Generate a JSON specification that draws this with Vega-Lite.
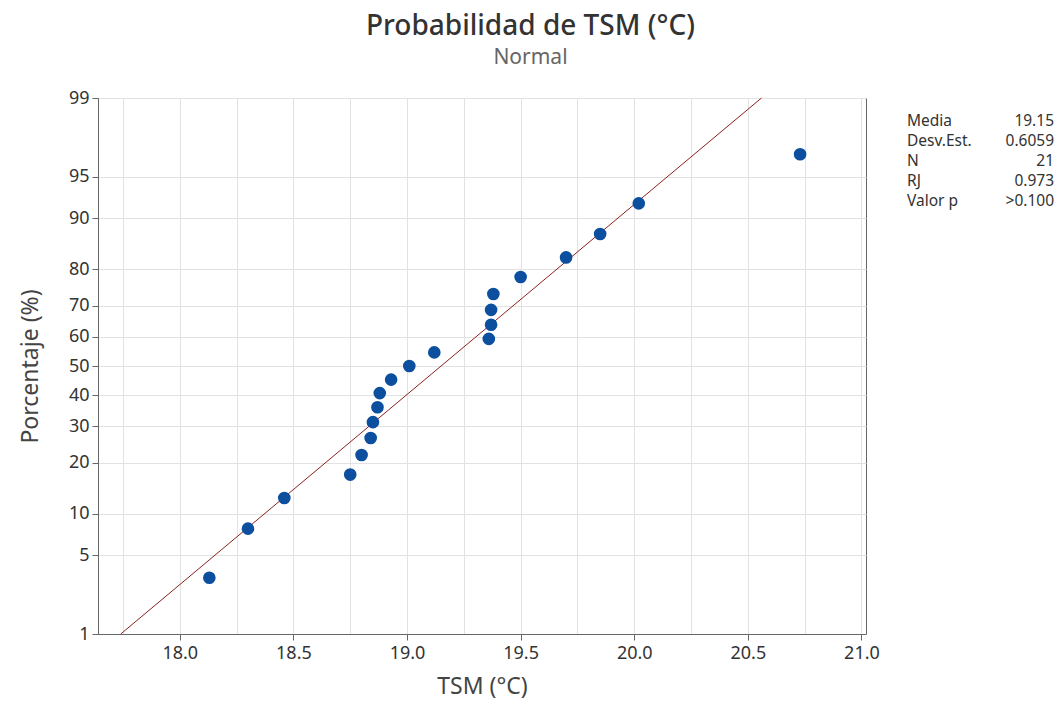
{
  "$schema": "https://vega.github.io/schema/vega-lite/v6.json",
  "background": "white",
  "padding": {"left": 18, "top": 12, "right": 3, "bottom": 3},
  "title": {
    "text": "Probabilidad de TSM (°C)",
    "subtitle": "Normal",
    "anchor": "middle",
    "dx": -6,
    "fontSize": 28,
    "fontWeight": 500,
    "font": "Noto Sans",
    "color": "#333333",
    "subtitleFont": "Noto Sans",
    "subtitleFontSize": 21,
    "subtitleColor": "#666666",
    "subtitlePadding": 6,
    "offset": 21
  },
  "spacing": 27,
  "hconcat": [
    {
      "width": 768,
      "height": 536,
      "view": {"stroke": "#666666", "strokeWidth": 1},
      "encoding": {
        "x": {
          "field": "TSM",
          "type": "quantitative",
          "scale": {"domain": [17.64, 21.02], "nice": false, "zero": false},
          "axis": {
            "title": "TSM (°C)",
            "values": [17.75, 18, 18.25, 18.5, 18.75, 19, 19.25, 19.5, 19.75, 20, 20.25, 20.5, 20.75, 21],
            "labelExpr": "abs(datum.value*2 - round(datum.value*2)) < 0.01 ? format(datum.value, '.1f') : ''",
            "labelOverlap": false,
            "labelPadding": 4,
            "tickOpacity": {"condition": {"test": "abs(datum.value*2 - round(datum.value*2)) < 0.01", "value": 1}, "value": 0},
            "titlePadding": 13
          }
        },
        "y": {
          "field": "z",
          "type": "quantitative",
          "scale": {"domain": [-2.3263, 2.3263], "nice": false, "zero": false},
          "axis": {
            "title": "Porcentaje (%)",
            "values": [-2.3263, -1.6449, -1.2816, -0.8416, -0.5244, -0.2533, 0, 0.2533, 0.5244, 0.8416, 1.2816, 1.6449, 2.3263],
            "labelExpr": "format(round(cumulativeNormal(datum.value)*100), 'd')",
            "labelOverlap": false,
            "labelPadding": 3,
            "titlePadding": 26
          }
        }
      },
      "layer": [
        {
          "data": {"values": [{"TSM": 17.74, "pct": 1}, {"TSM": 20.56, "pct": 99}]},
          "transform": [{"calculate": "quantileNormal(datum.pct/100)", "as": "z"}],
          "mark": {"type": "line", "color": "#8b2020", "strokeWidth": 1}
        },
        {
          "data": {
            "values": [
              {"TSM": 18.13, "pct": 3.3},
              {"TSM": 18.30, "pct": 7.9},
              {"TSM": 18.46, "pct": 12.6},
              {"TSM": 18.75, "pct": 17.3},
              {"TSM": 18.80, "pct": 22.0},
              {"TSM": 18.84, "pct": 26.6},
              {"TSM": 18.85, "pct": 31.3},
              {"TSM": 18.87, "pct": 36.0},
              {"TSM": 18.88, "pct": 40.7},
              {"TSM": 18.93, "pct": 45.3},
              {"TSM": 19.01, "pct": 50.0},
              {"TSM": 19.12, "pct": 54.7},
              {"TSM": 19.36, "pct": 59.3},
              {"TSM": 19.37, "pct": 64.0},
              {"TSM": 19.37, "pct": 68.7},
              {"TSM": 19.38, "pct": 73.4},
              {"TSM": 19.50, "pct": 78.0},
              {"TSM": 19.70, "pct": 82.7},
              {"TSM": 19.85, "pct": 87.4},
              {"TSM": 20.02, "pct": 92.1},
              {"TSM": 20.73, "pct": 96.7}
            ]
          },
          "transform": [{"calculate": "quantileNormal(datum.pct/100)", "as": "z"}],
          "mark": {"type": "circle", "size": 160, "color": "#0b4f9e", "opacity": 1}
        }
      ]
    },
    {
      "width": 147,
      "height": 120,
      "view": {"stroke": null},
      "data": {
        "values": [
          {"stat": "Media", "val": "19.15"},
          {"stat": "Desv.Est.", "val": "0.6059"},
          {"stat": "N", "val": "21"},
          {"stat": "RJ", "val": "0.973"},
          {"stat": "Valor p", "val": ">0.100"}
        ]
      },
      "encoding": {
        "y": {"field": "stat", "type": "nominal", "sort": null, "scale": {"type": "point", "padding": 1}, "axis": null}
      },
      "layer": [
        {
          "mark": {"type": "text", "align": "left", "baseline": "middle", "dy": 3, "fontSize": 15.5, "font": "Noto Sans", "color": "#333333"},
          "encoding": {"text": {"field": "stat"}, "x": {"value": 0}}
        },
        {
          "mark": {"type": "text", "align": "right", "baseline": "middle", "dy": 3, "fontSize": 15.5, "font": "Noto Sans", "color": "#333333"},
          "encoding": {"text": {"field": "val"}, "x": {"value": 147}}
        }
      ]
    }
  ],
  "config": {
    "font": "Noto Sans",
    "axis": {
      "domainColor": "#666666",
      "tickColor": "#666666",
      "tickSize": 6,
      "gridColor": "#e2e2e2",
      "gridWidth": 1,
      "labelColor": "#333333",
      "labelFontSize": 18,
      "labelFont": "Noto Sans",
      "titleFont": "Noto Sans",
      "titleFontSize": 23,
      "titleFontWeight": "normal",
      "titleColor": "#444444"
    }
  }
}
